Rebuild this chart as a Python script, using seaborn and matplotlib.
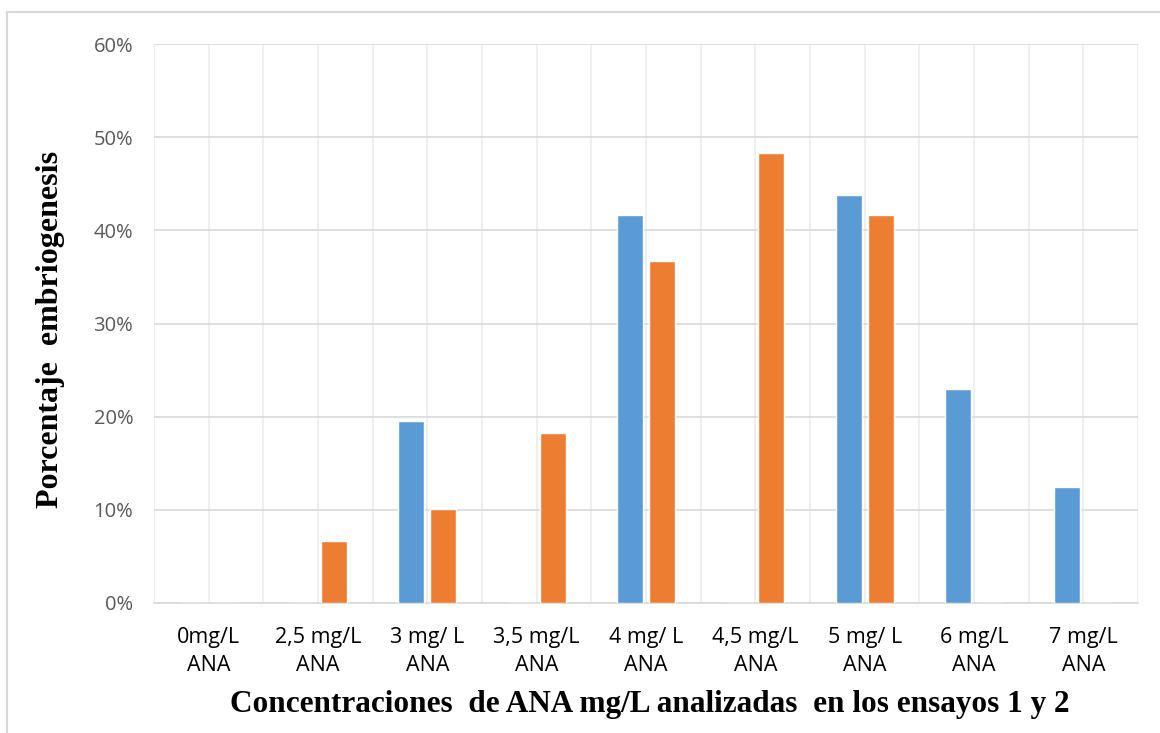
import numpy as np
import pandas as pd
import seaborn as sns
import matplotlib.pyplot as plt
from matplotlib.patches import Rectangle
from matplotlib.ticker import PercentFormatter

# Data
concentraciones = ["0mg/L\nANA", "2,5 mg/L\nANA", "3 mg/ L\nANA", "3,5 mg/L\nANA",
                   "4 mg/ L\nANA", "4,5 mg/L\nANA", "5 mg/ L\nANA", "6 mg/L\nANA",
                   "7 mg/L\nANA"]
ensayo_1 = [0, 0, 19.5, 0, 41.6, 0, 43.8, 23.0, 12.4]
ensayo_2 = [0, 6.7, 10.1, 18.2, 36.7, 48.3, 41.6, 0, 0]

df = pd.DataFrame({
    "conc": concentraciones * 2,
    "valor": ensayo_1 + ensayo_2,
    "ensayo": ["Ensayo 1"] * len(ensayo_1) + ["Ensayo 2"] * len(ensayo_2),
})

# Settings
sns.set_theme(style="white")
plt.rcParams['font.family'] = ['Open Sans', 'DejaVu Sans']

fig = plt.figure(figsize=(11.6, 7.33), dpi=100)
ax = fig.add_axes([154 / 1160, 1 - 603 / 733, 984 / 1160, 559 / 733])

sns.barplot(data=df, x="conc", y="valor", hue="ensayo",
            palette=["#5B9BD5", "#ED7D31"], saturation=1,
            width=0.586, gap=0.19,
            order=concentraciones, legend=False, ax=ax, zorder=3)

ax.set_ylim(0, 60)
ax.set_xlim(-0.5, len(concentraciones) - 0.5)
ax.set_yticks(np.arange(0, 61, 10))
ax.yaxis.set_major_formatter(PercentFormatter(decimals=0))

# gridlines
ax.set_xticks(np.arange(-0.5, len(concentraciones), 1), minor=True)
ax.grid(axis="y", color="#d9d9d9", linewidth=1.2, zorder=0)
ax.grid(axis="x", which="both", color="#ececec", linewidth=1.2, zorder=0)
ax.set_axisbelow(True)

for s in ["top", "right", "left"]:
    ax.spines[s].set_visible(False)
ax.spines["bottom"].set_color("#d9d9d9")
ax.spines["bottom"].set_linewidth(1.2)

ax.tick_params(axis="y", length=0, pad=15, labelsize=14.5, labelcolor="#595959")
ax.tick_params(axis="x", which="both", length=0, pad=17, labelsize=15.5,
               labelcolor="#000000")
for t in ax.get_xticklabels():
    t.set_linespacing(1.45)

ax.set_xlabel("Concentraciones  de ANA mg/L analizadas  en los ensayos 1 y 2",
              family="Liberation Serif", fontweight="bold", fontsize=22.5,
              va="center", color="black")
ax.set_ylabel("Porcentaje  embriogenesis",
              family="Liberation Serif", fontweight="bold", fontsize=23,
              va="center", color="black")
ax.xaxis.set_label_coords(0.504, -0.182)
ax.yaxis.set_label_coords(-0.105, 0.49)

# outer chart border
fig.patches.append(Rectangle((7 / 1160, -0.01), 1.0, 1 - 12 / 733 + 0.01,
                             transform=fig.transFigure, fill=False,
                             edgecolor="#d9d9d9", linewidth=1.5))

fig.savefig("out.png", dpi=100)
